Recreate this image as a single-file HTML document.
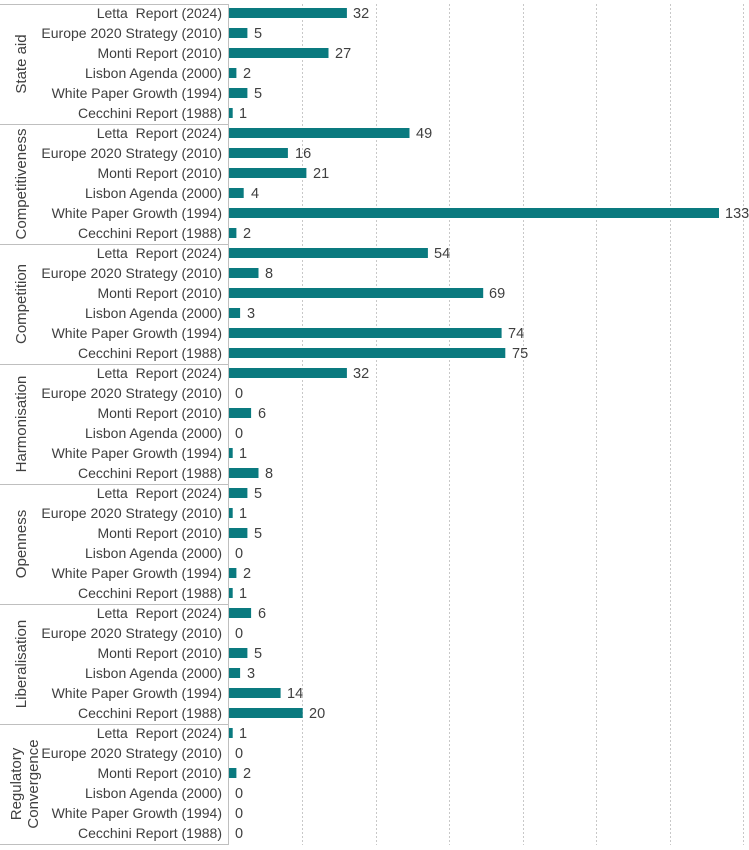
<!DOCTYPE html>
<html><head><meta charset="utf-8"><style>
html,body{margin:0;padding:0;background:#fff;}
svg{display:block;font-family:"Liberation Sans",sans-serif;}
.l{font-size:14px;fill:#404040;text-anchor:end;}
.v{font-size:14.5px;fill:#404040;}
.g{font-size:15px;fill:#404040;text-anchor:middle;}
.b{fill:#0a7a7f;}
</style></head><body>
<svg width="749" height="850" viewBox="0 0 749 850">
<g stroke="#c8c8c8" stroke-dasharray="2,2" stroke-width="1">
<line x1="302.5" y1="4" x2="302.5" y2="845"/><line x1="376.5" y1="4" x2="376.5" y2="845"/><line x1="449.5" y1="4" x2="449.5" y2="845"/><line x1="523.5" y1="4" x2="523.5" y2="845"/><line x1="596.5" y1="4" x2="596.5" y2="845"/><line x1="670.5" y1="4" x2="670.5" y2="845"/><line x1="743.5" y1="4" x2="743.5" y2="845"/>
</g>
<g stroke="#bfbfbf" stroke-width="1">
<line x1="228.5" y1="4" x2="228.5" y2="845"/>
<line x1="0" y1="4.5" x2="229" y2="4.5"/><line x1="0" y1="124.5" x2="229" y2="124.5"/><line x1="0" y1="244.5" x2="229" y2="244.5"/><line x1="0" y1="364.5" x2="229" y2="364.5"/><line x1="0" y1="484.5" x2="229" y2="484.5"/><line x1="0" y1="604.5" x2="229" y2="604.5"/><line x1="0" y1="724.5" x2="229" y2="724.5"/><line x1="0" y1="844.5" x2="229" y2="844.5"/>
</g>
<text class="g" transform="translate(26,64) rotate(-90)">State aid</text>
<text class="g" transform="translate(26,184) rotate(-90)">Competitiveness</text>
<text class="g" transform="translate(26,304) rotate(-90)">Competition</text>
<text class="g" transform="translate(26,424) rotate(-90)">Harmonisation</text>
<text class="g" transform="translate(26,544) rotate(-90)">Openness</text>
<text class="g" transform="translate(26,664) rotate(-90)">Liberalisation</text>
<text class="g" transform="translate(21,784) rotate(-90)">Regulatory</text>
<text class="g" transform="translate(38,784) rotate(-90)">Convergence</text>

<text class="l" x="222" y="18">Letta&#160; Report (2024)</text><rect class="b" x="229" y="8" width="117.9" height="10"/><text class="v" x="353" y="18">32</text>
<text class="l" x="222" y="38">Europe 2020 Strategy (2010)</text><rect class="b" x="229" y="28" width="18.4" height="10"/><text class="v" x="254" y="38">5</text>
<text class="l" x="222" y="58">Monti Report (2010)</text><rect class="b" x="229" y="48" width="99.5" height="10"/><text class="v" x="335" y="58">27</text>
<text class="l" x="222" y="78">Lisbon Agenda (2000)</text><rect class="b" x="229" y="68" width="7.4" height="10"/><text class="v" x="243" y="78">2</text>
<text class="l" x="222" y="98">White Paper Growth (1994)</text><rect class="b" x="229" y="88" width="18.4" height="10"/><text class="v" x="254" y="98">5</text>
<text class="l" x="222" y="118">Cecchini Report (1988)</text><rect class="b" x="229" y="108" width="3.7" height="10"/><text class="v" x="239" y="118">1</text>

<text class="l" x="222" y="138">Letta&#160; Report (2024)</text><rect class="b" x="229" y="128" width="180.5" height="10"/><text class="v" x="416" y="138">49</text>
<text class="l" x="222" y="158">Europe 2020 Strategy (2010)</text><rect class="b" x="229" y="148" width="58.9" height="10"/><text class="v" x="295" y="158">16</text>
<text class="l" x="222" y="178">Monti Report (2010)</text><rect class="b" x="229" y="168" width="77.4" height="10"/><text class="v" x="313" y="178">21</text>
<text class="l" x="222" y="198">Lisbon Agenda (2000)</text><rect class="b" x="229" y="188" width="14.7" height="10"/><text class="v" x="251" y="198">4</text>
<text class="l" x="222" y="218">White Paper Growth (1994)</text><rect class="b" x="229" y="208" width="490" height="10"/><text class="v" x="725" y="218">133</text>
<text class="l" x="222" y="238">Cecchini Report (1988)</text><rect class="b" x="229" y="228" width="7.4" height="10"/><text class="v" x="243" y="238">2</text>

<text class="l" x="222" y="258">Letta&#160; Report (2024)</text><rect class="b" x="229" y="248" width="198.9" height="10"/><text class="v" x="434" y="258">54</text>
<text class="l" x="222" y="278">Europe 2020 Strategy (2010)</text><rect class="b" x="229" y="268" width="29.5" height="10"/><text class="v" x="265" y="278">8</text>
<text class="l" x="222" y="298">Monti Report (2010)</text><rect class="b" x="229" y="288" width="254.2" height="10"/><text class="v" x="489" y="298">69</text>
<text class="l" x="222" y="318">Lisbon Agenda (2000)</text><rect class="b" x="229" y="308" width="11.1" height="10"/><text class="v" x="247" y="318">3</text>
<text class="l" x="222" y="338">White Paper Growth (1994)</text><rect class="b" x="229" y="328" width="272.6" height="10"/><text class="v" x="508" y="338">74</text>
<text class="l" x="222" y="358">Cecchini Report (1988)</text><rect class="b" x="229" y="348" width="276.3" height="10"/><text class="v" x="512" y="358">75</text>

<text class="l" x="222" y="378">Letta&#160; Report (2024)</text><rect class="b" x="229" y="368" width="117.9" height="10"/><text class="v" x="353" y="378">32</text>
<text class="l" x="222" y="398">Europe 2020 Strategy (2010)</text><text class="v" x="235" y="398">0</text>
<text class="l" x="222" y="418">Monti Report (2010)</text><rect class="b" x="229" y="408" width="22.1" height="10"/><text class="v" x="258" y="418">6</text>
<text class="l" x="222" y="438">Lisbon Agenda (2000)</text><text class="v" x="235" y="438">0</text>
<text class="l" x="222" y="458">White Paper Growth (1994)</text><rect class="b" x="229" y="448" width="3.7" height="10"/><text class="v" x="239" y="458">1</text>
<text class="l" x="222" y="478">Cecchini Report (1988)</text><rect class="b" x="229" y="468" width="29.5" height="10"/><text class="v" x="265" y="478">8</text>

<text class="l" x="222" y="498">Letta&#160; Report (2024)</text><rect class="b" x="229" y="488" width="18.4" height="10"/><text class="v" x="254" y="498">5</text>
<text class="l" x="222" y="518">Europe 2020 Strategy (2010)</text><rect class="b" x="229" y="508" width="3.7" height="10"/><text class="v" x="239" y="518">1</text>
<text class="l" x="222" y="538">Monti Report (2010)</text><rect class="b" x="229" y="528" width="18.4" height="10"/><text class="v" x="254" y="538">5</text>
<text class="l" x="222" y="558">Lisbon Agenda (2000)</text><text class="v" x="235" y="558">0</text>
<text class="l" x="222" y="578">White Paper Growth (1994)</text><rect class="b" x="229" y="568" width="7.4" height="10"/><text class="v" x="243" y="578">2</text>
<text class="l" x="222" y="598">Cecchini Report (1988)</text><rect class="b" x="229" y="588" width="3.7" height="10"/><text class="v" x="239" y="598">1</text>

<text class="l" x="222" y="618">Letta&#160; Report (2024)</text><rect class="b" x="229" y="608" width="22.1" height="10"/><text class="v" x="258" y="618">6</text>
<text class="l" x="222" y="638">Europe 2020 Strategy (2010)</text><text class="v" x="235" y="638">0</text>
<text class="l" x="222" y="658">Monti Report (2010)</text><rect class="b" x="229" y="648" width="18.4" height="10"/><text class="v" x="254" y="658">5</text>
<text class="l" x="222" y="678">Lisbon Agenda (2000)</text><rect class="b" x="229" y="668" width="11.1" height="10"/><text class="v" x="247" y="678">3</text>
<text class="l" x="222" y="698">White Paper Growth (1994)</text><rect class="b" x="229" y="688" width="51.6" height="10"/><text class="v" x="287" y="698">14</text>
<text class="l" x="222" y="718">Cecchini Report (1988)</text><rect class="b" x="229" y="708" width="73.7" height="10"/><text class="v" x="309" y="718">20</text>

<text class="l" x="222" y="738">Letta&#160; Report (2024)</text><rect class="b" x="229" y="728" width="3.7" height="10"/><text class="v" x="239" y="738">1</text>
<text class="l" x="222" y="758">Europe 2020 Strategy (2010)</text><text class="v" x="235" y="758">0</text>
<text class="l" x="222" y="778">Monti Report (2010)</text><rect class="b" x="229" y="768" width="7.4" height="10"/><text class="v" x="243" y="778">2</text>
<text class="l" x="222" y="798">Lisbon Agenda (2000)</text><text class="v" x="235" y="798">0</text>
<text class="l" x="222" y="818">White Paper Growth (1994)</text><text class="v" x="235" y="818">0</text>
<text class="l" x="222" y="838">Cecchini Report (1988)</text><text class="v" x="235" y="838">0</text>
</svg>
</body></html>
